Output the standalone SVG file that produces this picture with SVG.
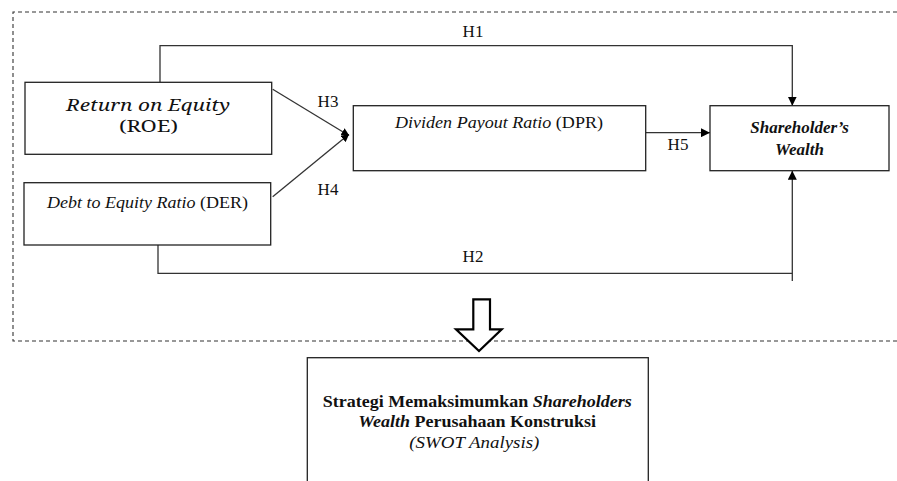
<svg xmlns="http://www.w3.org/2000/svg" width="897" height="481" viewBox="0 0 897 481">
<style>
.box{fill:#fff;stroke:#222;stroke-width:1.3}
.ln{fill:none;stroke:#333;stroke-width:1.3}
.t{font-family:'Liberation Serif','Times New Roman',serif;font-size:17px;fill:#111}
.c{font-family:'Noto Serif','DejaVu Serif',serif;font-size:16px;fill:#111}
.dash{fill:none;stroke:#333;stroke-width:1.1;stroke-dasharray:4 3}
</style>
<defs>
<marker id="ah" viewBox="0 0 10 10" refX="10" refY="5" markerWidth="9" markerHeight="9" markerUnits="userSpaceOnUse" orient="auto">
<path d="M0,0 L10,5 L0,10 z" fill="#000"/>
</marker>
<marker id="ahs" viewBox="0 0 10 10" refX="8" refY="5" markerWidth="8" markerHeight="8" markerUnits="userSpaceOnUse" orient="auto">
<path d="M0,0 L10,5 L0,10 z" fill="#000"/>
</marker>
</defs>
<rect width="897" height="481" fill="#fff"/>
<path class="dash" d="M897,12 H13 V341 H897"/>
<g id="connectors">
<path class="ln" d="M160,82 V45.7 H792.3 V105.7" marker-end="url(#ah)"/>
<path class="ln" d="M158,245 V273.3 H792.3"/>
<path class="ln" d="M792.3,281 V170.7" marker-end="url(#ah)"/>
<path class="ln" d="M272.7,89.3 L348,135" marker-end="url(#ahs)"/>
<path class="ln" d="M272.7,196.7 L348,135" marker-end="url(#ahs)"/>
<path class="ln" d="M645.7,132.7 H710" marker-end="url(#ah)"/>
<path d="M473.3,299.3 H490 V329.3 H501.7 L479,351 L456,329.3 H473.3 Z" fill="#fff" stroke="#000" stroke-width="2.2" stroke-linejoin="miter"/>
<text class="t" x="473" y="37" text-anchor="middle">H1</text>
<text class="t" x="473" y="262" text-anchor="middle">H2</text>
<text class="t" x="328" y="107" text-anchor="middle">H3</text>
<text class="t" x="328" y="195" text-anchor="middle">H4</text>
<text class="t" x="678" y="150" text-anchor="middle">H5</text>
</g>
<g id="roe">
<rect class="box" x="25" y="82.3" width="246.7" height="72"/>
<text class="c" x="148" y="110.5" text-anchor="middle" font-style="italic" textLength="164" lengthAdjust="spacingAndGlyphs">Return on Equity</text>
<text class="c" x="148.5" y="131.5" text-anchor="middle" textLength="59" lengthAdjust="spacingAndGlyphs">(ROE)</text>
</g>
<g id="der">
<rect class="box" x="24" y="182.7" width="246.7" height="62.3"/>
<text class="t" x="147.5" y="208" text-anchor="middle" font-size="17.5" textLength="201" lengthAdjust="spacingAndGlyphs"><tspan font-style="italic">Debt to Equity Ratio</tspan> (DER)</text>
</g>
<g id="dpr">
<rect class="box" x="353.3" y="105.7" width="292.4" height="65"/>
<text class="t" x="499" y="128" text-anchor="middle" font-size="17.5" textLength="208" lengthAdjust="spacingAndGlyphs"><tspan font-style="italic">Dividen Payout Ratio</tspan> (DPR)</text>
</g>
<g id="sw">
<rect class="box" x="710" y="105.7" width="179" height="65"/>
<text class="t" x="799.5" y="133" text-anchor="middle" font-size="18" font-weight="bold" font-style="italic">Shareholder’s</text>
<text class="t" x="799.5" y="155" text-anchor="middle" font-size="18" font-weight="bold" font-style="italic">Wealth</text>
</g>
<g id="strategy">
<rect class="box" x="307.3" y="357.7" width="341" height="140"/>
<text class="t" x="477.2" y="406.7" text-anchor="middle" font-weight="bold" textLength="309" lengthAdjust="spacingAndGlyphs">Strategi Memaksimumkan <tspan font-style="italic">Shareholders</tspan></text>
<text class="t" x="477.2" y="426.7" text-anchor="middle" font-weight="bold" textLength="237.7" lengthAdjust="spacingAndGlyphs"><tspan font-style="italic">Wealth</tspan> Perusahaan Konstruksi</text>
<text class="t" x="474.3" y="448" text-anchor="middle" font-style="italic" textLength="130" lengthAdjust="spacingAndGlyphs">(SWOT Analysis)</text>
</g>
</svg>
